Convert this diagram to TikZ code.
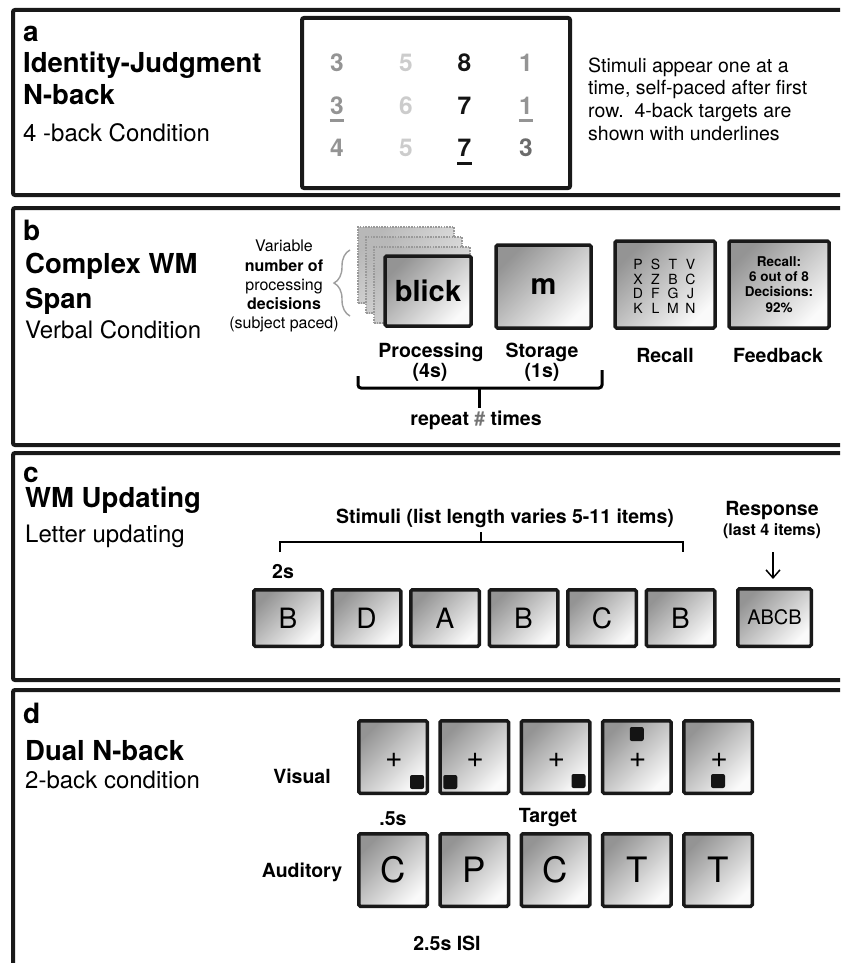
\documentclass[tikz,border=0pt]{standalone}
\usepackage{fontspec}
\setmainfont{TeX Gyre Heros}
\usepackage{xcolor}
\usepackage{tikz}
\usetikzlibrary{arrows.meta,calc}
\usetikzlibrary{decorations.pathreplacing}

\definecolor{numgrey}{gray}{0.58}
\definecolor{numlight}{gray}{0.8}
\definecolor{numdeep}{gray}{0.42}
\definecolor{numdark}{gray}{0.08}
\definecolor{bracegrey}{gray}{0.62}

\newcommand{\fsz}[1]{\fontsize{#1}{1.2\dimexpr #1pt\relax}\selectfont}

\begin{document}
\begin{tikzpicture}[x=1pt, y=-1pt, >={Straight Barb[length=8pt,width=14pt]},
  panel/.style={draw=black!90, line width=4pt, rounded corners=2pt},
  tag/.style={anchor=base west, inner sep=0pt, font=\fsz{28}\bfseries},
  head/.style={anchor=base west, inner sep=0pt, font=\fsz{27.5}\bfseries},
  sub/.style={anchor=base west, inner sep=0pt, font=\fsz{24}},
  lab/.style={anchor=base, inner sep=0pt, font=\fsz{19.5}\bfseries},
  screen/.style={draw=black!90, line width=3.5pt, rounded corners=1.5pt,
    top color=black!42, bottom color=black!2, shading angle=45, inner sep=0pt},
  card/.style={draw=black!40, line width=2.2pt, dash pattern=on 1.6pt off 1.1pt,
    top color=black!28, bottom color=black!8, shading angle=45,
    minimum width=96pt, minimum height=76pt, inner sep=0pt},
  digit/.style={anchor=base, inner sep=0pt, font=\fsz{24.5}\bfseries},
  spot/.style={fill=black!92, rounded corners=2pt, minimum size=14pt, inner sep=0pt}
]
\fill[white] (0,0) rectangle (840,963);
\clip (0,0) rectangle (840,963);

\draw[panel] (13,10) rectangle (870,195);
\draw[panel] (13,208) rectangle (870,445);
\draw[panel] (13,453) rectangle (870,680);
\draw[panel] (13,690) rectangle (870,1000);

% a
\node[tag] (taga) at (23,42) {a};
\node[head] (heada1) at (23,73) {Identity-Judgment};
\node[head] (heada2) at (23,105) {N-back};
\node[sub] (suba) at (23,142) {4 -back Condition};
\draw[draw=black!90, line width=4pt, rounded corners=2pt] (302,18) rectangle (570,188);
\foreach \v/\cx/\cy/\c/\n in {3/337/72/numgrey/11, 5/406/72/numlight/12, 8/464.5/72/numdark/13, 1/526/72/numgrey/14,
                              3/337/114.5/numgrey/21, 6/406/114.5/numlight/22, 7/464.5/114.5/numdark/23, 1/526/114.5/numgrey/24,
                              4/337/157/numgrey/31, 5/406/157/numlight/32, 7/464.5/157/numdark/33, 3/526/157/numdeep/34}
  \node[digit, text=\c] (d\n) at (\cx,\cy) {\v};
\foreach \n/\c in {21/numgrey, 24/numgrey, 33/numdark}
  \draw[draw=\c, line width=3pt] ($(d\n.base west)+(0,6)$) -- ($(d\n.base east)+(0,6)$);
\node[anchor=north west, inner sep=0pt, align=left, font={\fontsize{19.5}{22.7}\selectfont}] (notea) at (588,57.5)
  {Stimuli appear one at a\\time, self-paced after first\\row.\ \ 4-back targets are\\shown with underlines};

% b
\node[tag] (tagb) at (23,240) {b};
\node[head] (headb1) at (25,273) {Complex WM};
\node[head] (headb2) at (25,308) {Span};
\node[sub] (subb) at (25,338) {Verbal Condition};
\node[anchor=north, inner sep=0pt, align=center, font=\fsz{16}] (varnote) at (284,240)
  {Variable\\\textbf{number of}\\processing\\\textbf{decisions}\\(subject paced)};
\draw[bracegrey, line width=1.4pt, decorate, decoration={brace, amplitude=16pt}] (350,316) -- (350,250);
\node[card] (card1) at (406,265) {};
\node[card] (card2) at (414,275) {};
\node[card] (card3) at (422,285) {};
\node[screen, minimum width=86pt, minimum height=70pt, font=\fsz{29}\bfseries] (proc) at (428,291) {blick};
\node[screen, minimum width=95pt, minimum height=83pt, font=\fsz{29}\bfseries] (stor) at (543.5,286.5) {m};
\node[screen, minimum width=100pt, minimum height=87pt] (recall) at (665,284.5) {};
\foreach \row [count=\r] in {{P,S,T,V},{X,Z,B,C},{D,F,G,J},{K,L,M,N}}
  \foreach \ch [count=\c] in \row
    \node[font=\fsz{14}, inner sep=0pt] (rl\r\c) at (620.5+17.5*\c, 249.5+14.7*\r) {\ch};
\node[screen, minimum width=100pt, minimum height=87pt, align=center, font={\fontsize{13.5}{15.3}\selectfont\bfseries}] (feedb) at (779,284.5)
  {Recall:\\6 out of 8\\Decisions:\\92\%};
\node[lab] (proclab) at (431,357) {Processing};
\node[lab] (proctime) at (430,377) {(4s)};
\node[lab] (storlab) at (542,357) {Storage};
\node[lab] (stortime) at (542,377) {(1s)};
\node[lab] (recalllab) at (665,362) {Recall};
\node[lab] (feedlab) at (778,362) {Feedback};
\draw[line width=3pt, rounded corners=3pt] (358,376) -- (358,388) -- (602,388) -- (602,370);
\draw[line width=3pt] (479,388) -- (479,408);
\node[lab] (repeatlab) at (476,425) {repeat {\color{black!55}\#} times};

% c
\node[tag] (tagc) at (23,482) {c};
\node[head] (headc) at (25,507) {WM Updating};
\node[sub] (subc) at (25,542) {Letter updating};
\node[lab] (stimlab) at (505,523) {Stimuli (list length varies 5-11 items)};
\draw[line width=1.5pt] (280,552) -- (280,542) -- (683,542) -- (683,552);
\draw[line width=1.5pt] (481,542) -- (481,532);
\node[lab] (twos) at (283,578) {2s};
\foreach \ch [count=\i from 0] in {B,D,A,B,C,B}
  \node[screen, minimum width=68.5pt, minimum height=56.5pt, font=\fsz{28}] (upd\i) at (288+78.5*\i,618) {\ch};
\node[lab] (resplab) at (772,515) {Response};
\node[lab, font=\fsz{16}\bfseries] (resptext) at (772,535) {(last 4 items)};
\node[screen, minimum width=73.5pt, minimum height=57.5pt, font=\fsz{20}] (resp) at (774.5,617.5) {ABCB};
\coordinate (arrtop) at (773,552);
\draw[->, line width=1.5pt, shorten >=8pt] (arrtop) -- (arrtop |- resp.north);

% d
\node[tag] (tagd) at (23,723) {d};
\node[head] (headd) at (25,760) {Dual N-back};
\node[sub] (subd) at (25,788) {2-back condition};
\node[lab] (vislab) at (302,783) {Visual};
\node[lab] (audlab) at (302,877) {Auditory};
\foreach \i in {0,...,4}
{
  \node[screen, minimum width=68.5pt, minimum height=72.5pt] (vis\i) at (393+81.25*\i,757) {};
  \node[font=\fsz{30}, inner sep=0pt] (plus\i) at ($(vis\i)+(1,3)$) {+};
}
\foreach \i/\dx/\dy in {0/24/25, 1/-24/25, 2/23/24, 3/0/-23, 4/0/24}
  \node[spot] (spot\i) at ($(vis\i)+(\dx,\dy)$) {};
\foreach \ch [count=\i from 0] in {C,P,C,T,T}
  \node[screen, minimum width=68.5pt, minimum height=72.5pt, font=\fsz{35}] (aud\i) at (393+81.25*\i,870) {\ch};
\node[lab] (halfs) at (393,825) {.5s};
\node[lab] (target) at (548,822) {Target};
\node[lab] (isi) at (447,950) {2.5s ISI};

\end{tikzpicture}
\end{document}
